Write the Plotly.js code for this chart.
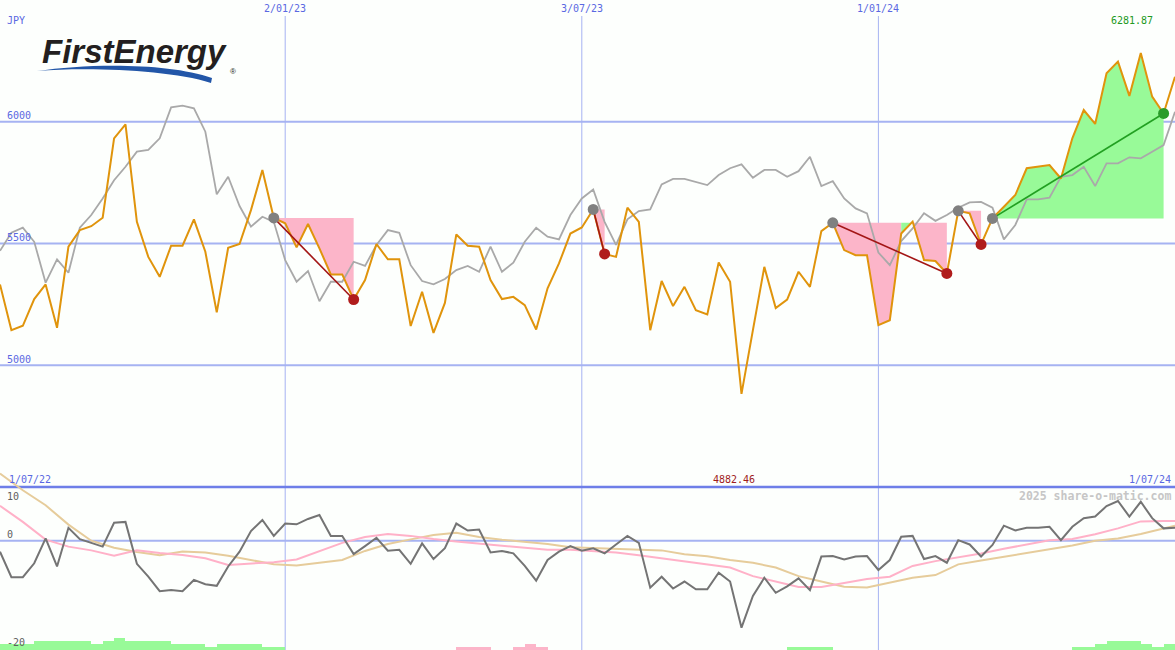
<!DOCTYPE html>
<html>
<head>
<meta charset="utf-8">
<script src="https://cdn.plot.ly/plotly-3.0.1.min.js"></script>
<style>html,body{margin:0;padding:0;background:#fdfffd;}#chart{width:1175px;height:650px;}</style>
</head>
<body>
<div id="chart"></div>
<script>
// ---------------- DATA ----------------
const startDate = '2022-07-11';           // weekly points (Mondays)
const price = [5332,5144,5162,5272,5332,5154,5487,5555,5571,5606,
  5932,5989,5589,5445,5363,5491,5491,5599,5466,5217,
  5482,5498,5637,5802,5605,5583,5484,5580,5480,5373,
  5373,5270,5350,5498,5435,5435,5161,5302,5133,5256,
  5537,5491,5487,5350,5272,5281,5247,5147,5316,5418,
  5541,5566,5640,5457,5445,5647,5589,5144,5346,5243,
  5322,5226,5209,5422,5343,4882.46,5144,5404,5235,5270,
  5384,5322,5551,5585,5473,5452,5452,5165,5185,5541,
  5590,5432,5428,5377,5634,5624,5496,5603,5651,5699,
  5809,5815,5822,5767,5932,6048,5991,6199,6247,6106,
  6281.87,6103,6034,6185];
const compare = [5470,5544,5565,5507,5339,5435,5380,5565,5617,5685,
  5760,5815,5877,5884,5932,6059,6066,6055,5959,5702,
  5774,5654,5569,5610,5589,5432,5343,5387,5263,5343,
  5343,5425,5408,5494,5555,5544,5411,5346,5332,5354,
  5391,5408,5384,5487,5384,5421,5507,5565,5528,5517,
  5617,5685,5722,5589,5494,5599,5633,5640,5743,5765,
  5765,5754,5740,5781,5809,5825,5770,5802,5802,5774,
  5797,5856,5736,5756,5685,5644,5624,5463,5411,5510,
  5562,5624,5593,5617,5647,5669,5671,5647,5517,5576,
  5681,5681,5688,5774,5781,5815,5736,5829,5829,5854,
  5850,5877,5904,6041];
const momentum = [-2.05,-6.8,-6.8,-4.2,0.45,-4.8,2.4,0.3,-0.4,-1.1,
  3.35,3.5,-4.3,-6.7,-9.4,-9.2,-9.4,-7.3,-8.1,-8.4,
  -4.8,-2.05,1.8,3.85,0.9,3.2,3.05,4.05,4.8,0.9,
  0.9,-2.5,-1.0,0.55,-1.85,-1.7,-4.3,-0.5,-3.4,-1.4,
  3.2,1.9,2.1,-2.2,-1.9,-2.35,-4.7,-7.45,-3.6,-2.05,
  -1.0,-1.85,-1.4,-2.35,-0.7,0.9,-0.4,-8.75,-6.7,-8.9,
  -7.6,-9.05,-9.05,-5.95,-7.6,-16.2,-10.3,-6.9,-9.7,-8.5,
  -7.0,-9.2,-2.95,-2.85,-3.5,-2.95,-2.85,-5.45,-3.6,0.75,
  0.9,-3.4,-2.85,-4.1,0.1,-0.7,-2.95,-0.8,2.8,1.9,
  2.4,2.4,2.6,0.1,2.6,4.2,4.5,6.45,7.4,4.5,
  7.25,4.2,2.3,2.4];
// moving averages sampled at these week numbers
const maWeeks = [0,2,4,6,8,10,12,14,16,18,20,22,24,26,28,30,32,34,36,38,
  40,42,44,46,48,50,52,54,56,58,60,62,64,66,68,70,72,74,76,78,
  80,82,84,86,88,90,92,94,96,98,100,102,103];
const maFast = [6.5,3.5,0.2,-1.1,-1.8,-2.8,-1.8,-2.3,-2.65,-3.25,
  -4.5,-4.2,-4.0,-3.5,-2.0,-0.4,0.7,1.25,0.9,0.3,
  -0.15,-0.55,-0.95,-1.4,-1.7,-1.7,-1.9,-2.2,-2.7,-3.3,
  -3.9,-4.4,-5.0,-6.6,-7.6,-8.6,-8.6,-7.9,-7.15,-6.7,
  -4.7,-3.8,-3.1,-2.4,-1.5,-0.7,0.1,0.3,1.2,2.3,
  3.6,3.65,3.65];
const maSlow = [12.5,9.4,6.6,3.0,0.0,-1.3,-2.1,-2.7,-2.0,-2.2,
  -2.8,-3.6,-4.4,-4.6,-4.15,-3.6,-1.9,-0.6,0.25,1.05,
  1.5,0.7,0.2,-0.2,-0.6,-1.2,-1.35,-1.5,-1.6,-1.8,
  -2.5,-2.9,-3.6,-4.1,-5.0,-6.6,-7.6,-8.55,-8.7,-7.8,
  -6.9,-6.4,-4.4,-3.7,-3.0,-2.4,-1.6,-0.9,0.0,0.4,
  1.25,2.3,2.8];
const volBars = [2,2,2,3,3,3,3,3,2,3,4,3,3,3,3,2,2,2,1,2,2,2,2,1,1,
  0,0,0,0,0,0,0,0,0,0,0,0,0,0,0,
  -1,-1,-1,0,0,-1,-2,-1,
  0,0,0,0,0,0,0,0,0,0,0,0,0,0,0,0,0,0,0,0,0,
  1,1,1,1,
  0,0,0,0,0,0,0,0,0,0,0,0,0,0,0,0,0,0,0,0,0,
  1,1,2,3,3,3,2,1,2,0];
const swingStart = [24,52,73,84,87];
const swingEnd   = [31,53,83,86,102];
const tickDates = ['2023-01-02','2023-07-03','2024-01-01'];
const tickText  = ['2/01/23','3/07/23','1/01/24'];
const priceTicks = [5000,5500,6000];
const oscTicks = [10,0,-20];
const oscTickText = ['10','0','-20'];
const rangeText = ['1/07/22','1/07/24'];

// ---------------- BUILD ----------------
const W = 1175, H = 650;
const px = x => x / W, py = y => 1 - y / H;
function weekDate(n){const d=new Date(startDate+'T00:00:00Z');d.setUTCDate(d.getUTCDate()+7*n);return d.toISOString().slice(0,10);}
const dates = price.map((_, i) => weekDate(i));
const maDates = maWeeks.map(weekDate);

const PINK = '#fcb5c9', GREEN = '#98fa98';
const traces = [];
// swing fills
swingStart.forEach((s, r) => {
  const e = swingEnd[r], level = price[s];
  let k = s;
  while (k < e) {
    const up = price[k + 1] > level;
    let b = k;
    while (b + 1 < e && (price[b + 2] > level) === up) b++;
    traces.push({x:[dates[k], dates[b + 1]], y:[level, level], mode:'lines', line:{width:0}, hoverinfo:'skip'});
    traces.push({x:dates.slice(k, b + 2), y:price.slice(k, b + 2), mode:'lines', line:{width:0},
      fill:'tonexty', fillcolor: up ? GREEN : PINK, hoverinfo:'skip'});
    k = b + 1;
  }
});
traces.push({x:dates, y:compare, mode:'lines', line:{color:'#a9a9a9', width:1.8}});
traces.push({x:dates, y:price, mode:'lines', line:{color:'#e0940c', width:2}});
swingStart.forEach((s, r) => {
  const e = swingEnd[r], up = price[e] > price[s];
  traces.push({x:[dates[s], dates[e]], y:[price[s], price[e]], mode:'lines',
    line:{color: up ? '#22a022' : '#a31616', width:1.6}});
});
traces.push({x:swingStart.map(i => dates[i]), y:swingStart.map(i => price[i]), mode:'markers',
  marker:{color:'#808080', size:11}});
traces.push({x:swingEnd.map(i => dates[i]), y:swingEnd.map(i => price[i]), mode:'markers',
  marker:{color:swingEnd.map((e, r) => price[e] > price[swingStart[r]] ? '#2a9c2a' : '#b01c1c'), size:11}});

// lower panel
traces.push({x:dates, y:volBars.map(Math.abs), type:'bar', yaxis:'y3', width:7*864e5, offset:0,
  marker:{color:volBars.map(v => v < 0 ? PINK : GREEN), line:{width:0}}});
traces.push({x:maDates, y:maSlow, yaxis:'y2', mode:'lines', line:{color:'#e6cc9b', width:2}});
traces.push({x:maDates, y:maFast, yaxis:'y2', mode:'lines', line:{color:'#ffb1c8', width:2}});
traces.push({x:dates, y:momentum, yaxis:'y2', mode:'lines', line:{color:'#747474', width:2}});

const GRID = '#a6b3f2', LBL = '#5a68e2';
const mono = {family:'DejaVu Sans Mono, monospace', size:10};
const shapes = [];
priceTicks.forEach(v => shapes.push({type:'line', xref:'paper', x0:0, x1:1, yref:'y', y0:v, y1:v, line:{color:GRID, width:2}, layer:'below'}));
tickDates.forEach(d => shapes.push({type:'line', xref:'x', x0:d, x1:d, yref:'paper', y0:0, y1:py(16), line:{color:GRID, width:1}, layer:'below'}));
shapes.push({type:'line', xref:'paper', x0:0, x1:1, yref:'y2', y0:0, y1:0, line:{color:GRID, width:2}, layer:'below'});
shapes.push({type:'line', xref:'paper', x0:0, x1:1, yref:'y2', y0:10, y1:10, line:{color:'#6e7ee8', width:2.5}, layer:'below'});
// logo swoosh
const P = (x, y) => px(x).toFixed(5) + ',' + py(y).toFixed(5);
shapes.push({type:'path', xref:'paper', yref:'paper', layer:'above',
  path:'M' + P(37,71) + ' C' + P(90,63) + ' ' + P(170,63) + ' ' + P(212,78) + ' L' + P(211,83) +
       ' C' + P(170,70) + ' ' + P(90,67) + ' ' + P(37,71) + ' Z',
  fillcolor:'#2256a8', line:{width:0}});

const ann = [];
const A = (o) => ann.push(Object.assign({showarrow:false, xanchor:'left', yanchor:'middle'}, o));
tickDates.forEach((d, i) => A({x:d, xref:'x', y:py(9), yref:'paper', xanchor:'center', text:tickText[i], font:Object.assign({color:LBL}, mono)}));
A({x:px(5), xref:'paper', y:py(21), yref:'paper', text:'JPY', font:Object.assign({color:LBL}, mono)});
priceTicks.forEach(v => A({x:px(5), xref:'paper', y:v, yref:'y', yshift:6, text:String(v), font:Object.assign({color:LBL}, mono)}));
const oscShift = [-9, 6, 6];
oscTicks.forEach((v, i) => A({x:px(5), xref:'paper', y:v, yref:'y2', yshift:oscShift[i], text:oscTickText[i], font:Object.assign({color:'#606060'}, mono)}));
A({x:px(7), xref:'paper', y:py(479), yref:'paper', text:rangeText[0], font:Object.assign({color:LBL}, mono)});
A({x:px(1173), xref:'paper', y:py(479), yref:'paper', xanchor:'right', text:rangeText[1], font:Object.assign({color:LBL}, mono)});
const iMax = price.indexOf(Math.max(...price)), iMin = price.indexOf(Math.min(...price));
A({x:dates[iMax], xref:'x', xshift:-9, y:py(21), yref:'paper', xanchor:'center', text:price[iMax].toFixed(2), font:Object.assign({color:'#229922'}, mono)});
A({x:dates[iMin], xref:'x', xshift:-8, y:py(479), yref:'paper', xanchor:'center', text:price[iMin].toFixed(2), font:Object.assign({color:'#a01c1c'}, mono)});
A({x:px(1173), xref:'paper', y:py(496), yref:'paper', xanchor:'right', text:'<b>2025 share-o-matic.com</b>',
  font:{family:'DejaVu Sans Mono, monospace', size:11.5, color:'#c6c6c6'}});
A({x:px(41), xref:'paper', y:py(52), yref:'paper', borderpad:0, text:'<b><i>FirstEnergy</i></b>',
  font:{family:'Liberation Sans, Arial, sans-serif', size:33, color:'#231f20'}});
A({x:px(229), xref:'paper', y:py(71), yref:'paper', borderpad:0, text:'®',
  font:{family:'Liberation Sans, Arial, sans-serif', size:8, color:'#231f20'}});

const layout = {
  width:W, height:H, margin:{l:0, r:0, t:0, b:0},
  paper_bgcolor:'#fdfffd', plot_bgcolor:'rgba(0,0,0,0)',
  showlegend:false, hovermode:false, bargap:0,
  xaxis:{type:'date', range:[dates[0], dates[dates.length - 1]], visible:false, fixedrange:true},
  yaxis:{domain:[1 - 487 / H, 1], range:[4500, 6500], visible:false, fixedrange:true},
  yaxis2:{domain:[0, 182 / H], range:[-20.35, 13.54], visible:false, anchor:'x', fixedrange:true},
  yaxis3:{domain:[0, 65 / H], range:[0, 65 / 3], visible:false, anchor:'x', fixedrange:true},
  shapes:shapes, annotations:ann
};
Plotly.newPlot('chart', traces, layout, {staticPlot:true, displayModeBar:false});
</script>
</body>
</html>
